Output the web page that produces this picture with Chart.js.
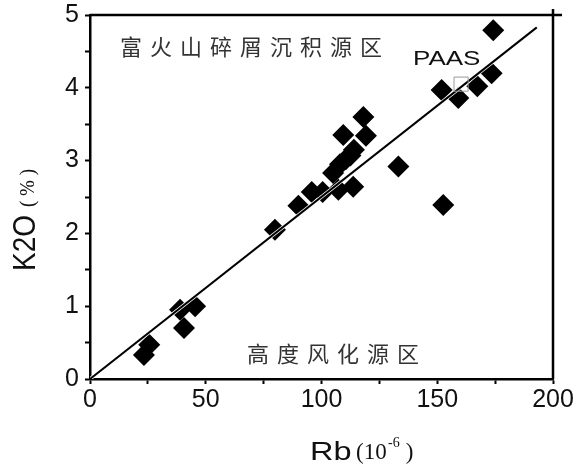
<!DOCTYPE html>
<html>
<head>
<meta charset="utf-8">
<script src="https://cdn.jsdelivr.net/npm/chart.js@4/dist/chart.umd.min.js"></script>
<style>
  html, body { margin: 0; padding: 0; background: #fff; }
  #wrap { width: 582px; height: 465px; }
</style>
</head>
<body>
<div id="wrap"><canvas id="c"></canvas></div>
<script>
// sample points: Rb (10^-6) vs K2O (%)
const rbValues = [23.3, 25.6, 38.9, 45.4, 40.6, 79.9, 90, 95.8, 100.5, 107.3, 113.7, 105, 108, 110.5, 112.5, 114, 109.4, 119.2, 118.1, 133.2, 152.6, 151.9, 159.1, 167.3, 173.5, 174.2];
const k2oValues = [0.33, 0.47, 0.95, 1.0, 0.70, 2.05, 2.38, 2.57, 2.57, 2.6, 2.64, 2.83, 2.95, 3.02, 3.07, 3.15, 3.35, 3.34, 3.6, 2.92, 2.39, 3.97, 3.86, 4.02, 4.2, 4.79];

// PAAS reference point
const paasRb = [160.3];
const paasK2o = [4.05];

// trend line end points
const lineRb = [0, 193];
const lineK2o = [0, 4.83];

const xTickLabels = [0, 50, 100, 150, 200];
const yTickLabels = [0, 1, 2, 3, 4, 5];

const toPts = (xs, ys) => xs.map((x, i) => ({x: x, y: ys[i]}));

const textPlugin = {
  id: 'texts',
  afterDraw(chart) {
    const ctx = chart.ctx;
    const a = chart.chartArea;
    ctx.save();
    // frame (top and right)
    ctx.strokeStyle = '#000';
    ctx.lineWidth = 2.5;
    ctx.beginPath();
    ctx.moveTo(a.left, a.top);
    ctx.lineTo(a.right + 9, a.top);
    ctx.moveTo(a.right, a.top - 6);
    ctx.lineTo(a.right, a.bottom);
    ctx.stroke();

    // chinese labels, spaced out
    ctx.fillStyle = '#333';
    ctx.textBaseline = 'middle';
    ctx.textAlign = 'left';
    ctx.font = '22px "Noto Sans CJK SC"';
    const spaced = (s, x, y, pitch) => {
      [...s].forEach((ch, i) => ctx.fillText(ch, x + i * pitch, y));
    };
    spaced('富火山碎屑沉积源区', 120, 47, 30);
    spaced('高度风化源区', 247, 354, 30);

    ctx.fillStyle = '#111';
    ctx.textBaseline = 'alphabetic';
    ctx.save();
    ctx.translate(413, 65);
    ctx.scale(1.3, 1);
    ctx.font = '20px "Liberation Sans", Arial';
    ctx.fillText('PAAS', 0, 0);
    ctx.restore();

    // x title
    ctx.save();
    ctx.translate(310, 460);
    ctx.scale(1.3, 1);
    ctx.font = '25px "Liberation Sans", Arial';
    ctx.fillText('Rb', 0, 0);
    ctx.restore();
    ctx.font = '23px "Liberation Serif", serif';
    ctx.fillText('(10', 356, 459);
    ctx.font = '14px "Liberation Serif", serif';
    ctx.fillText('-6', 388, 447);
    ctx.font = '23px "Liberation Serif", serif';
    ctx.fillText(' )', 400, 459);

    // y title
    ctx.save();
    ctx.translate(35, 271);
    ctx.scale(1.15, 1);
    ctx.rotate(-Math.PI / 2);
    ctx.font = '28px "Liberation Sans", Arial';
    ctx.fillText('K2O', 0, 0);
    ctx.font = '19px "Liberation Serif", serif';
    ctx.fillText('( % )', 64, -1);
    ctx.restore();
    ctx.restore();
  }
};

new Chart(document.getElementById('c'), {
  type: 'scatter',
  data: {
    datasets: [
      {
        label: 'PAAS',
        data: toPts(paasRb, paasK2o),
        pointStyle: 'rect',
        pointRadius: 10,
        borderColor: '#999',
        borderWidth: 1,
        backgroundColor: 'rgba(255,255,255,0)',
        order: 0
      },
      {
        label: 'trend',
        data: toPts(lineRb, lineK2o),
        showLine: true,
        pointRadius: 0,
        borderColor: '#000',
        borderWidth: 2,
        order: 1
      },
      {
        label: 'halo',
        data: toPts(lineRb, lineK2o),
        showLine: true,
        pointRadius: 0,
        borderColor: '#fff',
        borderWidth: 3.5,
        order: 2
      },
      {
        label: 'samples',
        data: toPts(rbValues, k2oValues),
        pointStyle: 'rectRot',
        pointRadius: 11,
        borderWidth: 0,
        backgroundColor: '#000',
        order: 3
      }
    ]
  },
  options: {
    responsive: true,
    maintainAspectRatio: false,
    animation: false,
    layout: { padding: { top: 15, right: 29, left: 0, bottom: 0 } },
    plugins: {
      legend: { display: false },
      tooltip: { enabled: false }
    },
    scales: {
      x: {
        type: 'linear',
        min: 0,
        max: 200,
        afterFit: (s) => { s.height = 86; },
        ticks: {
          stepSize: 25,
          padding: 1,
          color: '#111',
          font: { family: '"Liberation Sans", Arial', size: 25 },
          callback: (v) => xTickLabels.includes(v) ? String(v) : ''
        },
        grid: { drawOnChartArea: false, tickLength: 5, color: '#000', tickWidth: 2 },
        border: { color: '#000', width: 2.5 }
      },
      y: {
        min: 0,
        max: 5,
        afterFit: (s) => { s.width = 90; },
        ticks: {
          stepSize: 0.5,
          padding: 6,
          color: '#111',
          font: { family: '"Liberation Sans", Arial', size: 25, lineHeight: 0.4 },
          callback: (v) => yTickLabels.includes(v) ? String(v) : ''
        },
        grid: { drawOnChartArea: false, tickLength: 5, color: '#000', tickWidth: 2 },
        border: { color: '#000', width: 2.5 }
      }
    }
  },
  plugins: [textPlugin]
});
</script>
</body>
</html>
